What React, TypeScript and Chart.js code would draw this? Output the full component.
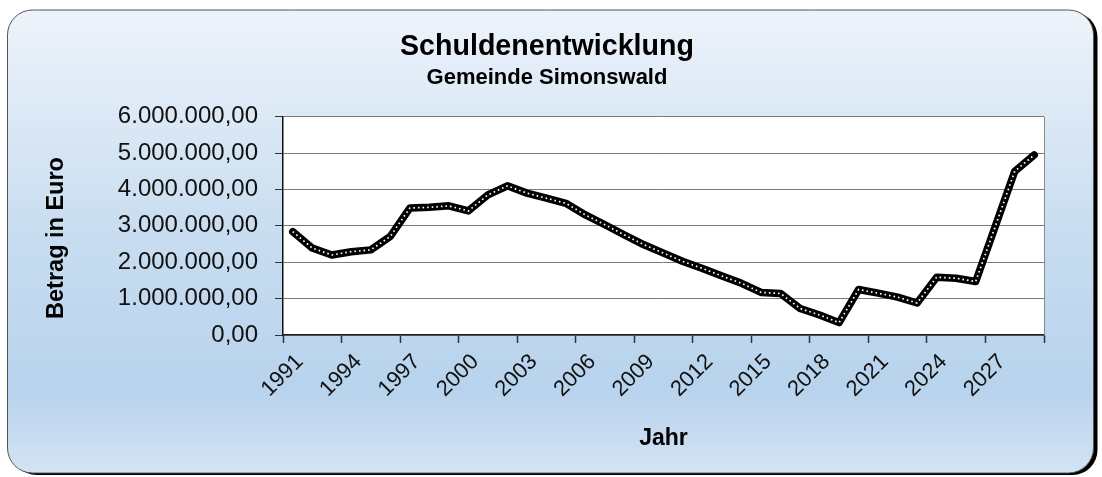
import React, { useEffect, useRef } from 'react';
import { Chart, registerables } from 'chart.js';

Chart.register(...registerables);

const years: string[] = [
  '1991', '1992', '1993', '1994', '1995', '1996', '1997', '1998', '1999', '2000',
  '2001', '2002', '2003', '2004', '2005', '2006', '2007', '2008', '2009', '2010',
  '2011', '2012', '2013', '2014', '2015', '2016', '2017', '2018', '2019', '2020',
  '2021', '2022', '2023', '2024', '2025', '2026', '2027', '2028', '2029',
];

const debt: number[] = [
  2840000, 2390000, 2200000, 2290000, 2340000, 2710000, 3490000, 3510000, 3550000, 3410000,
  3850000, 4100000, 3900000, 3760000, 3620000, 3300000, 3030000, 2750000, 2480000, 2250000,
  2020000, 1830000, 1620000, 1420000, 1170000, 1140000, 730000, 550000, 340000, 1250000,
  1150000, 1040000, 880000, 1590000, 1560000, 1470000, 2980000, 4500000, 4950000,
];

const yMin = 0;
const yMax = 6000000;
const yStep = 1000000;
const labelEvery = 3;

const chartTitle = 'Schuldenentwicklung';
const chartSubtitle = 'Gemeinde Simonswald';
const xTitle = 'Jahr';
const yTitle = 'Betrag in Euro';

const FONT = "'Liberation Sans', Arial, Helvetica, sans-serif";

function formatDE(v: number): string {
  const s = Math.round(v).toString();
  const withDots = s.replace(/\B(?=(\d{3})+(?!\d))/g, '.');
  return withDots + ',00';
}

function roundRect(ctx: CanvasRenderingContext2D, x: number, y: number, w: number, h: number, r: number) {
  ctx.beginPath();
  ctx.moveTo(x + r, y);
  ctx.lineTo(x + w - r, y);
  ctx.arcTo(x + w, y, x + w, y + r, r);
  ctx.lineTo(x + w, y + h - r);
  ctx.arcTo(x + w, y + h, x + w - r, y + h, r);
  ctx.lineTo(x + r, y + h);
  ctx.arcTo(x, y + h, x, y + h - r, r);
  ctx.lineTo(x, y + r);
  ctx.arcTo(x, y, x + r, y, r);
  ctx.closePath();
}

const framePlugin = {
  id: 'frame',
  beforeDraw(chart: any) {
    const ctx: CanvasRenderingContext2D = chart.ctx;
    const fx = 7.5, fy = 10, fw = 1086, fh = 463, r = 25;
    ctx.save();
    // shadow
    roundRect(ctx, fx + 4, fy + 2, fw, fh, r);
    ctx.fillStyle = '#000';
    ctx.fill();
    // gradient body
    const g = ctx.createLinearGradient(0, fy, 0, fy + fh);
    g.addColorStop(0, '#edf3fa');
    g.addColorStop(0.5, '#c7dcf0');
    g.addColorStop(0.82, '#b8d3ed');
    g.addColorStop(1, '#d3e3f4');
    roundRect(ctx, fx, fy, fw, fh, r);
    ctx.fillStyle = g;
    ctx.fill();
    ctx.lineWidth = 1;
    ctx.strokeStyle = '#555';
    ctx.stroke();
    // plot area background
    const a = chart.chartArea;
    ctx.fillStyle = '#ffffff';
    ctx.fillRect(a.left, a.top, a.right - a.left, a.bottom - a.top);
    ctx.restore();
  },
  afterDraw(chart: any) {
    const ctx: CanvasRenderingContext2D = chart.ctx;
    const a = chart.chartArea;
    ctx.save();
    ctx.strokeStyle = '#8a8a8a';
    ctx.lineWidth = 1;
    ctx.beginPath();
    ctx.moveTo(Math.round(a.right) + 0.5, a.top);
    ctx.lineTo(Math.round(a.right) + 0.5, a.bottom);
    ctx.stroke();
    // y axis title
    ctx.translate(57, 238);
    ctx.rotate(-Math.PI / 2);
    ctx.font = `bold 23.5px ${FONT}`;
    ctx.fillStyle = '#000';
    ctx.textAlign = 'center';
    ctx.textBaseline = 'middle';
    ctx.fillText(yTitle, 0, 0);
    ctx.restore();
  },
};

export default function App() {
  const canvasRef = useRef<HTMLCanvasElement | null>(null);

  useEffect(() => {
    const canvas = canvasRef.current;
    if (!canvas) return;
    const chart = new Chart(canvas, {
      type: 'line',
      data: {
        labels: years,
        datasets: [
          {
            data: debt,
            borderColor: '#ffffff',
            borderWidth: 1.7,
            borderDash: [1.6, 3],
            pointRadius: 0,
            tension: 0,
            fill: false,
            order: 0,
          },
          {
            data: debt,
            borderColor: '#000000',
            borderWidth: 7.5,
            borderJoinStyle: 'round',
            borderCapStyle: 'round',
            pointRadius: 0,
            tension: 0,
            fill: false,
            order: 1,
          },
        ],
      },
      options: {
        responsive: false,
        animation: false,
        devicePixelRatio: 1,
        layout: { padding: { left: 50, right: 58, top: 0, bottom: 20 } },
        plugins: {
          legend: { display: false },
          tooltip: { enabled: false },
          title: {
            display: true,
            text: chartTitle,
            color: '#000',
            font: { family: FONT, size: 28.6, weight: 'bold' },
            padding: { top: 30, bottom: 0 },
          },
          subtitle: {
            display: true,
            text: chartSubtitle,
            color: '#000',
            font: { family: FONT, size: 22, weight: 'bold' },
            padding: { top: 0, bottom: 26 },
          },
        },
        scales: {
          x: {
            type: 'category',
            offset: true,
            grid: {
              offset: true,
              drawOnChartArea: false,
              drawTicks: true,
              tickLength: 8,
              tickWidth: 1.5,
              tickColor: (c: any) =>
                c.index === undefined || c.index % labelEvery === 0 ? '#333' : 'rgba(0,0,0,0)',
            },
            border: { display: true, color: '#222', width: 1.5 },
            ticks: {
              autoSkip: false,
              maxRotation: 45,
              minRotation: 45,
              padding: 6,
              labelOffset: 7,
              color: '#111',
              font: { family: FONT, size: 22 },
              callback: (_v: any, i: number) => (i % labelEvery === 0 ? years[i] : ''),
            },
            title: {
              display: true,
              text: xTitle,
              color: '#000',
              font: { family: FONT, size: 23, weight: 'bold' },
              padding: { top: 0, bottom: 5 },
            },
            afterFit: (s: any) => {
              s.height = 122;
            },
          },
          y: {
            min: yMin,
            max: yMax,
            grid: {
              color: '#7a7a7a',
              lineWidth: 1,
              tickLength: 8,
              tickColor: '#333',
            },
            border: { display: true, color: '#111', width: 1.5 },
            ticks: {
              stepSize: yStep,
              padding: 17,
              color: '#111',
              font: { family: FONT, size: 24 },
              callback: (v: any) => formatDE(Number(v)),
            },
            afterFit: (s: any) => {
              s.width = 233;
            },
          },
        },
      },
      plugins: [framePlugin],
    });
    return () => chart.destroy();
  }, []);

  return (
    <div style={{ position: 'absolute', left: 0, top: 0, width: 1102, height: 477 }}>
      <canvas ref={canvasRef} width={1102} height={477} style={{ display: 'block' }} />
    </div>
  );
}
